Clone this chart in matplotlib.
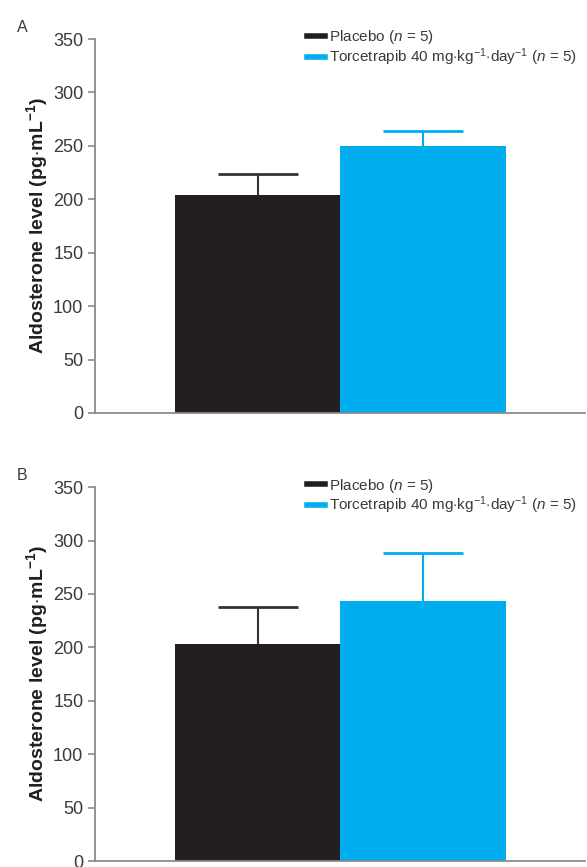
import matplotlib.pyplot as plt
from matplotlib.lines import Line2D

plt.rcParams['font.family'] = ['Liberation Sans', 'DejaVu Sans']
plt.rcParams['mathtext.fontset'] = 'custom'
plt.rcParams['mathtext.rm'] = 'Liberation Sans'
plt.rcParams['mathtext.it'] = 'Liberation Sans:italic'
plt.rcParams['mathtext.bf'] = 'Liberation Sans:bold'

groups = ['Placebo', 'Torcetrapib']
panel_labels = ['A', 'B']
means_a = [204, 250]
errs_a = [20, 14]
means_b = [203, 243]
errs_b = [35, 45]
yticks = [0, 50, 100, 150, 200, 250, 300, 350]

black = '#231f20'
blue = '#00aeef'
grey = '#8a8a8a'
txt = '#3a3a3a'

legend_labels = [r'Placebo ($n$ = 5)',
                 r'Torcetrapib 40 mg$\cdot$kg$^{-1}$$\cdot$day$^{-1}$ ($n$ = 5)']

fig = plt.figure(figsize=(5.87, 8.67), dpi=100)
ax_a = fig.add_axes([0.162, 0.5237, 0.835, 0.4313])
ax_b = fig.add_axes([0.162, 0.0069, 0.835, 0.4313])

xpos = [0.332, 0.669]
width = 0.337

for ax, means, errs, lab in [(ax_a, means_a, errs_a, 'A'), (ax_b, means_b, errs_b, 'B')]:
    colors = [black, blue]
    for i in range(2):
        ax.bar(xpos[i], means[i], width=width, color=colors[i], zorder=2)
        eb = ax.errorbar(xpos[i], means[i], yerr=[[0], [errs[i]]],
                         color=colors[i] if i else '#333333',
                         capsize=29, elinewidth=1.5, capthick=2, zorder=3)
        # only keep the top cap
        for cap in eb[1]:
            if cap.get_ydata()[0] <= means[i]:
                cap.set_visible(False)
    ax.set_xlim(0, 1)
    ax.set_ylim(0, 350)
    ax.set_yticks(yticks)
    ax.set_xticks([])
    ax.spines['top'].set_visible(False)
    ax.spines['right'].set_visible(False)
    ax.spines['left'].set_color(grey)
    ax.spines['bottom'].set_color(grey)
    ax.spines['left'].set_linewidth(1.3)
    ax.spines['bottom'].set_linewidth(1.3)
    ax.tick_params(axis='y', colors=grey, labelcolor=txt, labelsize=13, length=5, width=1.2)
    ax.set_ylabel('Aldosterone level (pg$\\cdot$mL$^{\\mathbf{-1}}$)', fontsize=14, fontweight='bold',
                  color=black, labelpad=2)
    ax.text(-0.16, 1.02, lab, transform=ax.transAxes, fontsize=11.5, color=txt)
    handles = [Line2D([0], [0], color=black, lw=4), Line2D([0], [0], color=blue, lw=4)]
    ax.legend(handles, legend_labels, loc='upper right', bbox_to_anchor=(1.012, 1.065),
              frameon=False, fontsize=11, handlelength=1.2, handletextpad=0.25,
              labelspacing=0.0, labelcolor=txt)

fig.savefig('out.png', dpi=100)
